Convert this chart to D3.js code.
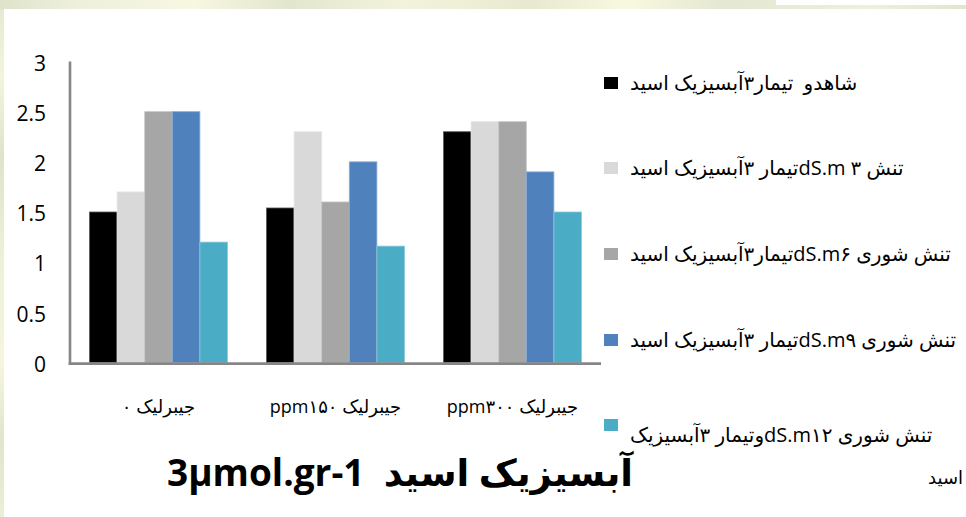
<!DOCTYPE html>
<html>
<head>
<meta charset="utf-8">
<script src="https://cdn.jsdelivr.net/npm/d3@7"></script>
<style>
  html, body { margin: 0; padding: 0; background: #fff; }
  svg { display: block; }
</style>
</head>
<body>
<svg id="chart" width="966" height="517"></svg>
<script>
// Gibberellin levels on the x axis
const categories = ["جیبرلیک ۰", "جیبرلیک ppm۱۵۰", "جیبرلیک ppm۳۰۰"];

// Treatment series (legend order)
const seriesNames = [
  "شاهدو  تیمار۳آبسیزیک اسید",
  "تنش ۳ dS.mتیمار ۳آبسیزیک اسید",
  "تنش شوری dS.m۶تیمار۳آبسیزیک اسید",
  "تنش شوری dS.m۹تیمار ۳آبسیزیک اسید",
  "تنش شوری dS.m۱۲وتیمار ۳آبسیزیک"
];
const seriesNameWrap = ["", "", "", "", "اسید"];
const seriesColors = ["#000000", "#d9d9d9", "#a6a6a6", "#4f81bd", "#4bacc6"];

// Abscisic acid content per series, one value per category
const control   = [1.5, 1.54, 2.3];
const salt3     = [1.7, 2.3, 2.4];
const salt6     = [2.5, 1.6, 2.4];
const salt9     = [2.5, 2.0, 1.9];
const salt12    = [1.2, 1.16, 1.5];
const seriesValues = [control, salt3, salt6, salt9, salt12];

const yTicks = [0, 0.5, 1, 1.5, 2, 2.5, 3];
const titleText = "3µmol.gr-1  آبسیزیک اسید";

const svg = d3.select("#chart");
const defs = svg.append("defs");

// textured page edge
const bg = defs.append("linearGradient").attr("id", "edge").attr("x1", 0).attr("x2", 1).attr("y1", 0).attr("y2", 0);
[["0", "#dfe3cb"], ["0.08", "#eef0dc"], ["0.2", "#f7f7e2"], ["0.3", "#e3e6cf"], ["0.42", "#f3f3dd"],
 ["0.55", "#e8eacf"], ["0.65", "#f9f8e0"], ["0.75", "#e4e7d2"], ["0.9", "#eef0dc"], ["1", "#e2e5ce"]]
  .forEach(([o, c]) => bg.append("stop").attr("offset", o).attr("stop-color", c));
const bgv = defs.append("linearGradient").attr("id", "edgev").attr("x1", 0).attr("x2", 0).attr("y1", 0).attr("y2", 1);
[["0", "#e5e8d2"], ["0.15", "#f4f4de"], ["0.3", "#dfe3ca"], ["0.5", "#eef0da"], ["0.7", "#f6f5df"], ["0.85", "#e1e5cd"], ["1", "#eceed8"]]
  .forEach(([o, c]) => bgv.append("stop").attr("offset", o).attr("stop-color", c));

svg.append("rect").attr("x", 0).attr("y", 0).attr("width", 966).attr("height", 517).attr("fill", "url(#edgev)");
svg.append("rect").attr("x", 0).attr("y", 0).attr("width", 966).attr("height", 10).attr("fill", "url(#edge)");
svg.append("rect").attr("x", 776).attr("y", 0).attr("width", 190).attr("height", 5).attr("fill", "#ffffff");
svg.append("rect").attr("x", 4).attr("y", 9).attr("width", 962).attr("height", 508).attr("fill", "#ffffff");

const plot = { left: 70, right: 601, top: 61.5, bottom: 362.5 };

const x0 = d3.scaleBand().domain(categories).range([plot.left, plot.right]).paddingInner(0).paddingOuter(0);
const groupPad = 19.5;
const x1 = d3.scaleBand().domain(d3.range(seriesNames.length)).range([groupPad, x0.bandwidth() - groupPad]).padding(0);
const y = d3.scaleLinear().domain([0, 3]).range([plot.bottom, plot.top]);

// bars
const groups = svg.append("g").selectAll("g")
  .data(categories)
  .join("g")
  .attr("transform", d => `translate(${x0(d)},0)`);

groups.selectAll("rect")
  .data((d, i) => seriesValues.map((vals, s) => ({ s, v: vals[i] })))
  .join("rect")
  .attr("x", d => x1(d.s))
  .attr("width", x1.bandwidth())
  .attr("y", d => y(d.v))
  .attr("height", d => y(0) - y(d.v))
  .attr("fill", d => seriesColors[d.s])
  .attr("stroke", d => d3.interpolateRgb(seriesColors[d.s], "#ffffff")(0.35))
  .attr("stroke-width", 0.8);

// y axis
const yAxis = svg.append("g")
  .attr("transform", `translate(${plot.left},0)`)
  .call(d3.axisLeft(y).tickValues(yTicks).tickSize(0).tickPadding(24).tickFormat(d3.format("")));
yAxis.select(".domain").remove();
yAxis.selectAll("text")
  .attr("font-family", "'Open Sans', Carlito, sans-serif")
  .attr("font-size", 21)
  .attr("fill", "#000")
  .attr("dy", "0.42em");

svg.append("line")
  .attr("x1", plot.left).attr("x2", plot.left)
  .attr("y1", y(3)).attr("y2", plot.bottom + 2.5)
  .attr("stroke", "#868686").attr("stroke-width", 2.6);

// x axis
const xAxis = svg.append("g")
  .attr("transform", `translate(0,${plot.bottom})`)
  .call(d3.axisBottom(x0).tickSize(0).tickPadding(38));
xAxis.select(".domain").remove();
xAxis.selectAll("text")
  .attr("font-family", "'Open Sans', 'DejaVu Sans', sans-serif")
  .attr("font-size", 18)
  .attr("fill", "#000")
  .attr("direction", "rtl")
  .style("unicode-bidi", "plaintext");

svg.append("line")
  .attr("x1", plot.left - 1.3).attr("x2", plot.right)
  .attr("y1", plot.bottom + 1.2).attr("y2", plot.bottom + 1.2)
  .attr("stroke", "#868686").attr("stroke-width", 2.7);

// legend
const legendY = [83, 168, 254, 340, 425];
const legendTextShift = [0, 0, 0, 0, 10];
const legend = svg.append("g");
seriesNames.forEach((name, i) => {
  legend.append("rect")
    .attr("x", 604).attr("y", legendY[i] - 6)
    .attr("width", 14).attr("height", 12)
    .attr("fill", seriesColors[i]);
  legend.append("text")
    .attr("x", 630).attr("y", legendY[i] + 7 + legendTextShift[i])
    .attr("direction", "rtl")
    .attr("text-anchor", "end")
    .attr("font-family", "'Open Sans', 'DejaVu Sans', sans-serif")
    .attr("font-size", 20)
    .attr("fill", "#000")
    .style("white-space", "pre")
    .text(name);
  if (seriesNameWrap[i]) {
    legend.append("text")
      .attr("x", 963).attr("y", legendY[i] + 59)
      .attr("direction", "rtl")
      .attr("text-anchor", "start")
      .attr("font-family", "'Open Sans', 'DejaVu Sans', sans-serif")
      .attr("font-size", 18)
      .attr("fill", "#000")
      .text(seriesNameWrap[i]);
  }
});

// title
svg.append("text")
  .attr("x", 400).attr("y", 486)
  .attr("text-anchor", "middle")
  .attr("font-family", "'Open Sans', 'DejaVu Sans', sans-serif")
  .attr("font-weight", "bold")
  .attr("font-size", 37)
  .attr("fill", "#000")
  .style("white-space", "pre")
  .text(titleText);
</script>
</body>
</html>
